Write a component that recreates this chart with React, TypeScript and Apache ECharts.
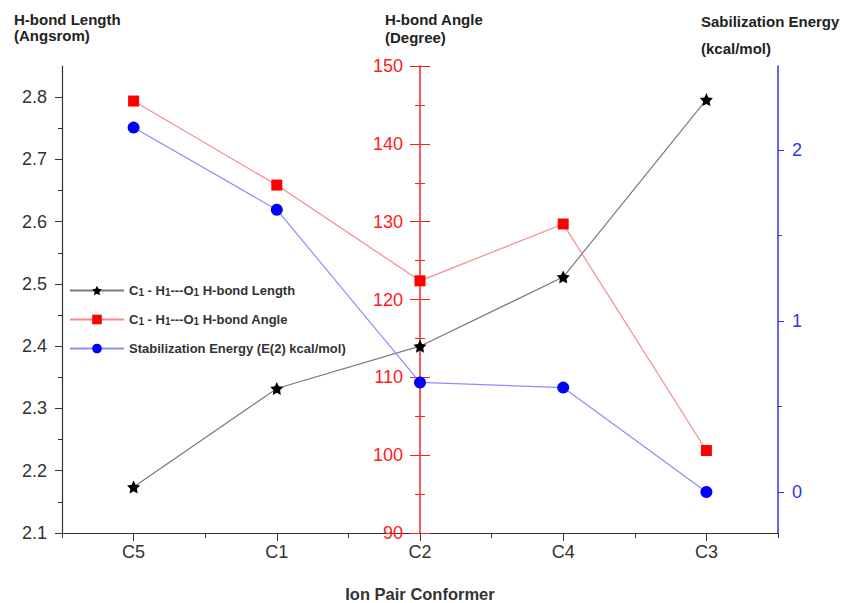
import React, { useEffect, useRef } from "react";
import * as echarts from "echarts";

// Conformers along the x axis
const categories = ["C5", "C1", "C2", "C4", "C3"];

// C1-H1---O1 H-bond length (Angstrom), left axis
const bondLength = [2.174, 2.332, 2.4, 2.511, 2.796];
// C1-H1---O1 H-bond angle (degree), middle axis
const bondAngle = [145.5, 134.7, 122.4, 129.7, 100.6];
// Stabilization energy E(2) (kcal/mol), right axis
const energy = [2.13, 1.65, 0.64, 0.61, 0.0];

const lengthMajor = [2.1, 2.2, 2.3, 2.4, 2.5, 2.6, 2.7, 2.8];
const lengthMinor = [2.15, 2.25, 2.35, 2.45, 2.55, 2.65, 2.75];
const energyMajor = [0, 1, 2];
const energyMinor = [0.5, 1.5];

const seriesNames = [
  "C1 - H1---O1 H-bond Length",
  "C1 - H1---O1 H-bond Angle",
  "Stabilization Energy (E(2) kcal/mol)",
];

const STAR =
  "path://M0,-10 L2.94,-4.05 L9.51,-3.09 L4.76,1.55 L5.88,8.09 L0,5 L-5.88,8.09 L-4.76,1.55 L-9.51,-3.09 L-2.94,-4.05 Z";

const FONT = "Liberation Sans, Arial, sans-serif";
const RED = "#ff2020";
const BLUE = "#3030ff";

export default function App() {
  const ref = useRef<HTMLDivElement>(null);

  useEffect(() => {
    if (!ref.current) return;
    const chart = echarts.init(ref.current, undefined, { renderer: "svg" });

    const gridLeft = 62;
    const gridRight = 68;
    const chartW = 846;
    const plotW = chartW - gridLeft - gridRight;
    // middle axis sits on the C2 category centre
    const midOffset = -(plotW / categories.length) * 2.5;

    const hidden = { show: false };

    chart.setOption({
      animation: false,
      backgroundColor: "#ffffff",
      textStyle: { fontFamily: FONT },
      grid: { left: gridLeft, right: gridRight, top: 66, bottom: 70, outerBoundsMode: "none" },
      legend: {
        orient: "vertical",
        left: 64,
        top: 279,
        itemWidth: 54,
        itemHeight: 12,
        itemGap: 16,
        data: seriesNames,
        formatter: (name: string) => name.replace(/([CHO])1/g, "$1{s|1}"),
        textStyle: {
          fontFamily: FONT,
          fontSize: 13,
          fontWeight: "bold",
          color: "#333",
          rich: {
            s: { fontSize: 10, fontWeight: "bold", color: "#333", fontFamily: FONT, padding: [3, 0, 0, 0] },
          },
        },
      },
      xAxis: [
        {
          type: "category",
          position: "bottom",
          data: categories,
          boundaryGap: true,
          name: "Ion Pair Conformer",
          nameLocation: "middle",
          nameGap: 52,
          nameTextStyle: { fontSize: 16.5, fontWeight: "bold", color: "#333", fontFamily: FONT },
          axisLine: { show: true, onZero: false, lineStyle: { color: "#333", width: 1.2 } },
          axisTick: { show: true, alignWithLabel: true, length: 8, lineStyle: { color: "#333" } },
          axisLabel: { fontSize: 18, color: "#333", margin: 10, fontFamily: FONT },
          splitLine: hidden,
        },
        {
          type: "category",
          position: "bottom",
          offset: 0,
          data: categories,
          boundaryGap: true,
          axisLine: { show: false, onZero: false },
          axisTick: { show: true, alignWithLabel: false, length: 5, lineStyle: { color: "#333" } },
          axisLabel: hidden,
          splitLine: hidden,
        },
      ],
      yAxis: [
        // 0: bond length, labels and major ticks
        {
          type: "value",
          position: "left",
          min: 2.1,
          max: 2.85,
          axisLine: { show: true, onZero: false, lineStyle: { color: "#333", width: 1.2 } },
          axisTick: { show: true, length: 7, customValues: lengthMajor, lineStyle: { color: "#333" } },
          axisLabel: {
            customValues: lengthMajor,
            fontSize: 18,
            color: "#333",
            margin: 15,
            fontFamily: FONT,
            formatter: (v: number) => v.toFixed(1),
          },
          splitLine: hidden,
        },
        // 1: bond length, minor ticks
        {
          type: "value",
          position: "left",
          offset: 0,
          min: 2.1,
          max: 2.85,
          axisLine: { show: false, onZero: false },
          axisTick: { show: true, length: 4, customValues: lengthMinor, lineStyle: { color: "#333" } },
          axisLabel: hidden,
          splitLine: hidden,
        },
        // 2: bond angle, labels and outward ticks
        {
          type: "value",
          position: "left",
          offset: midOffset,
          min: 90,
          max: 150,
          interval: 10,
          axisLine: { show: true, onZero: false, lineStyle: { color: RED, width: 1.5 } },
          axisTick: { show: true, length: 10, lineStyle: { color: RED } },
          minorTick: { show: true, splitNumber: 2, length: 5, lineStyle: { color: RED } },
          axisLabel: { fontSize: 18, color: RED, margin: 17, fontFamily: FONT },
          splitLine: hidden,
          minorSplitLine: hidden,
        },
        // 3: bond angle, inward ticks
        {
          type: "value",
          position: "left",
          offset: midOffset,
          min: 90,
          max: 150,
          interval: 10,
          axisLine: { show: false, onZero: false },
          axisTick: { show: true, inside: true, length: 10, lineStyle: { color: RED } },
          minorTick: { show: true, splitNumber: 2, length: 5, lineStyle: { color: RED } },
          axisLabel: hidden,
          splitLine: hidden,
          minorSplitLine: hidden,
        },
        // 4: energy, labels and major ticks
        {
          type: "value",
          position: "right",
          offset: 0,
          min: -0.24,
          max: 2.49,
          axisLine: { show: true, onZero: false, lineStyle: { color: BLUE, width: 1.5 } },
          axisTick: { show: true, length: 6, customValues: energyMajor, lineStyle: { color: BLUE } },
          axisLabel: { customValues: energyMajor, fontSize: 18, color: BLUE, margin: 14, fontFamily: FONT },
          splitLine: hidden,
        },
        // 5: energy, minor ticks
        {
          type: "value",
          position: "right",
          offset: 0,
          min: -0.24,
          max: 2.49,
          axisLine: { show: false, onZero: false },
          axisTick: { show: true, length: 4, customValues: energyMinor, lineStyle: { color: BLUE } },
          axisLabel: hidden,
          splitLine: hidden,
        },
      ],
      graphic: [
        { type: "text", left: 14, top: 12, style: { text: "H-bond Length", font: `bold 15px ${FONT}`, fill: "#222" } },
        { type: "text", left: 14, top: 28, style: { text: "(Angsrom)", font: `bold 15px ${FONT}`, fill: "#222" } },
        { type: "text", left: 385, top: 12, style: { text: "H-bond Angle", font: `bold 15px ${FONT}`, fill: "#222" } },
        { type: "text", left: 385, top: 30, style: { text: "(Degree)", font: `bold 15px ${FONT}`, fill: "#222" } },
        { type: "text", left: 701, top: 14, style: { text: "Sabilization Energy", font: `bold 15px ${FONT}`, fill: "#222" } },
        { type: "text", left: 701, top: 41, style: { text: "(kcal/mol)", font: `bold 15px ${FONT}`, fill: "#222" } },
      ],
      series: [
        {
          name: seriesNames[0],
          type: "line",
          xAxisIndex: 0,
          yAxisIndex: 0,
          data: bondLength,
          symbol: STAR,
          symbolSize: 13,
          itemStyle: { color: "#000" },
          lineStyle: { color: "#7a7a7a", width: 1.2 },
          z: 3,
        },
        {
          name: seriesNames[1],
          type: "line",
          xAxisIndex: 0,
          yAxisIndex: 2,
          data: bondAngle,
          symbol: "rect",
          symbolSize: 11,
          itemStyle: { color: "#ff0000" },
          lineStyle: { color: "#f58a8a", width: 1.2 },
          z: 3,
        },
        {
          name: seriesNames[2],
          type: "line",
          xAxisIndex: 0,
          yAxisIndex: 4,
          data: energy,
          symbol: "circle",
          symbolSize: 12,
          itemStyle: { color: "#0000ff" },
          lineStyle: { color: "#8c8cff", width: 1.2 },
          z: 3,
        },
      ],
    });

    return () => chart.dispose();
  }, []);

  return (
    <div
      ref={ref}
      style={{ position: "fixed", left: 0, top: 0, width: 846, height: 603, background: "#fff" }}
    />
  );
}
